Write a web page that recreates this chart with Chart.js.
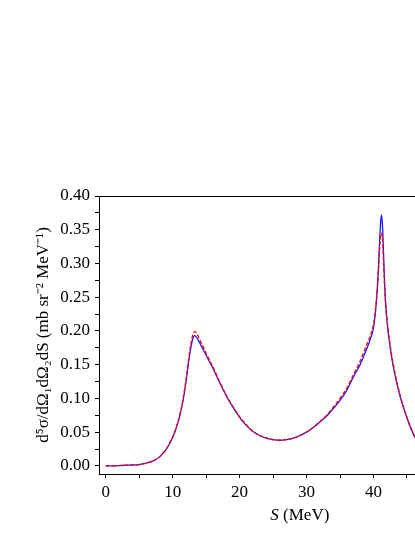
<!DOCTYPE html>
<html>
<head>
<meta charset="utf-8">
<script src="https://cdn.jsdelivr.net/npm/chart.js@4"></script>
<style>
  html, body { margin: 0; padding: 0; background: #fff; overflow: hidden; }
</style>
</head>
<body>
<canvas id="myChart" width="415" height="537"></canvas>
<script>
const sBlue = [0, 1, 2, 3, 4, 5, 6, 7, 8, 9, 10, 10.5, 11, 11.5, 12, 12.5, 13, 13.3, 13.6, 14, 15, 16, 17, 18, 19, 20, 21, 22, 23, 24, 25, 26, 27, 28, 29, 30, 31, 32, 33, 34, 35, 36, 37, 38, 39, 39.5, 40, 40.4, 40.7, 40.9, 41.1, 41.2, 41.35, 41.5, 41.7, 41.9, 42.2, 42.7, 43, 43.5, 44, 45, 46, 46.5];
const blueValues = [0, 0, 0.0005, 0.001, 0.0015, 0.002, 0.004, 0.007, 0.013, 0.024, 0.042, 0.055, 0.072, 0.094, 0.125, 0.162, 0.188, 0.193, 0.190, 0.183, 0.164, 0.145, 0.124, 0.104, 0.087, 0.072, 0.060, 0.051, 0.045, 0.041, 0.039, 0.038, 0.039, 0.041, 0.045, 0.050, 0.057, 0.065, 0.074, 0.085, 0.097, 0.112, 0.132, 0.150, 0.174, 0.187, 0.205, 0.240, 0.285, 0.330, 0.365, 0.372, 0.355, 0.315, 0.262, 0.228, 0.198, 0.162, 0.145, 0.122, 0.102, 0.071, 0.046, 0.038];

const sRed = [0, 1, 2, 3, 4, 5, 6, 7, 8, 9, 10, 10.5, 11, 11.5, 12, 12.5, 13, 13.3, 13.6, 14, 15, 16, 17, 18, 19, 20, 21, 22, 23, 24, 25, 26, 27, 28, 29, 30, 31, 32, 33, 34, 35, 36, 37, 38, 39, 39.5, 40, 40.4, 40.7, 40.9, 41.1, 41.2, 41.35, 41.5, 41.7, 41.9, 42.2, 42.7, 43, 43.5, 44, 45, 46, 46.5];
const redValues = [0, 0, 0.0005, 0.001, 0.0015, 0.002, 0.004, 0.007, 0.013, 0.024, 0.043, 0.056, 0.073, 0.096, 0.128, 0.166, 0.194, 0.199, 0.196, 0.188, 0.167, 0.147, 0.125, 0.105, 0.088, 0.073, 0.061, 0.051, 0.045, 0.041, 0.039, 0.038, 0.039, 0.041, 0.045, 0.050, 0.057, 0.066, 0.075, 0.087, 0.100, 0.115, 0.135, 0.155, 0.180, 0.192, 0.210, 0.242, 0.282, 0.320, 0.343, 0.345, 0.335, 0.302, 0.258, 0.230, 0.200, 0.165, 0.148, 0.124, 0.104, 0.072, 0.047, 0.039];

const xTicks = [0, 10, 20, 30, 40];
const yTicks = [0, 0.05, 0.10, 0.15, 0.20, 0.25, 0.30, 0.35, 0.40];

const serif = "'Liberation Serif', 'Times New Roman', serif";

function pts(xs, ys) {
  return xs.map((x, i) => ({ x: x, y: ys[i] }));
}

// top border line and x title with italic S
const extras = {
  id: 'extras',
  afterDraw(chart) {
    const c = chart.ctx;
    const area = chart.chartArea;
    c.save();
    c.strokeStyle = '#000';
    c.lineWidth = 1;
    c.beginPath();
    c.moveTo(area.left, area.top + 0.5);
    c.lineTo(area.right, area.top + 0.5);
    c.stroke();

    const xs = chart.scales.x;
    const cx = xs.getPixelForValue(29);
    const cy = 516;
    c.fillStyle = '#000';
    c.textBaseline = 'middle';
    c.font = 'italic 17px ' + serif;
    const w1 = c.measureText('S').width;
    c.font = '17px ' + serif;
    const w2 = c.measureText(' (MeV)').width;
    let x0 = cx - (w1 + w2) / 2;
    c.textAlign = 'left';
    c.font = 'italic 17px ' + serif;
    c.fillText('S', x0, cy);
    c.font = '17px ' + serif;
    c.fillText(' (MeV)', x0 + w1, cy);
    c.restore();
  }
};

const ctx = document.getElementById('myChart').getContext('2d');

const chart = new Chart(ctx, {
  type: 'line',
  data: {
    datasets: [
      {
        label: 'red',
        data: pts(sRed, redValues),
        borderColor: '#ff0000',
        borderWidth: 1.3,
        borderDash: [4, 2],
        pointRadius: 0,
        cubicInterpolationMode: 'monotone',
        fill: false
      },
      {
        label: 'blue',
        data: pts(sBlue, blueValues),
        borderColor: '#1a1aff',
        borderWidth: 1.3,
        pointRadius: 0,
        cubicInterpolationMode: 'monotone',
        fill: false
      }
    ]
  },
  options: {
    responsive: false,
    animation: false,
    layout: { padding: { left: 0, top: 196, right: 0, bottom: 0 } },
    plugins: {
      legend: { display: false },
      tooltip: { enabled: false }
    },
    scales: {
      x: {
        type: 'linear',
        min: -1,
        max: 46.2,
        afterFit(scale) { scale.height = 63; },
        ticks: {
          stepSize: 5,
          includeBounds: false,
          autoSkip: false,
          maxRotation: 0,
          padding: 4,
          color: '#000',
          font: { family: serif, size: 17 },
          callback: v => (xTicks.includes(v) ? String(v) : '')
        },
        grid: { display: true, drawOnChartArea: false, drawTicks: true, tickLength: 4, color: '#000' },
        border: { display: true, color: '#000', width: 1 }
      },
      y: {
        type: 'linear',
        min: -0.012,
        max: 0.40,
        afterFit(scale) { scale.width = 99; },
        ticks: {
          stepSize: 0.025,
          includeBounds: false,
          autoSkip: false,
          padding: 5,
          color: '#000',
          font: { family: serif, size: 17 },
          callback: v => {
            const hit = yTicks.find(t => Math.abs(t - v) < 1e-6);
            return hit !== undefined ? hit.toFixed(2) : '';
          }
        },
        grid: { display: true, drawOnChartArea: false, drawTicks: true, tickLength: 4, color: '#000' },
        border: { display: true, color: '#000', width: 1 },
        title: {
          display: true,
          text: 'd\u2075\u03C3/d\u03A9\u2081d\u03A9\u2082dS (mb sr\u207B\u00B2 MeV\u207B\u00B9)',
          color: '#000',
          font: { family: serif, size: 17 },
          padding: { top: 33, bottom: 0 }
        }
      }
    }
  },
  plugins: [extras]
});
</script>
</body>
</html>
